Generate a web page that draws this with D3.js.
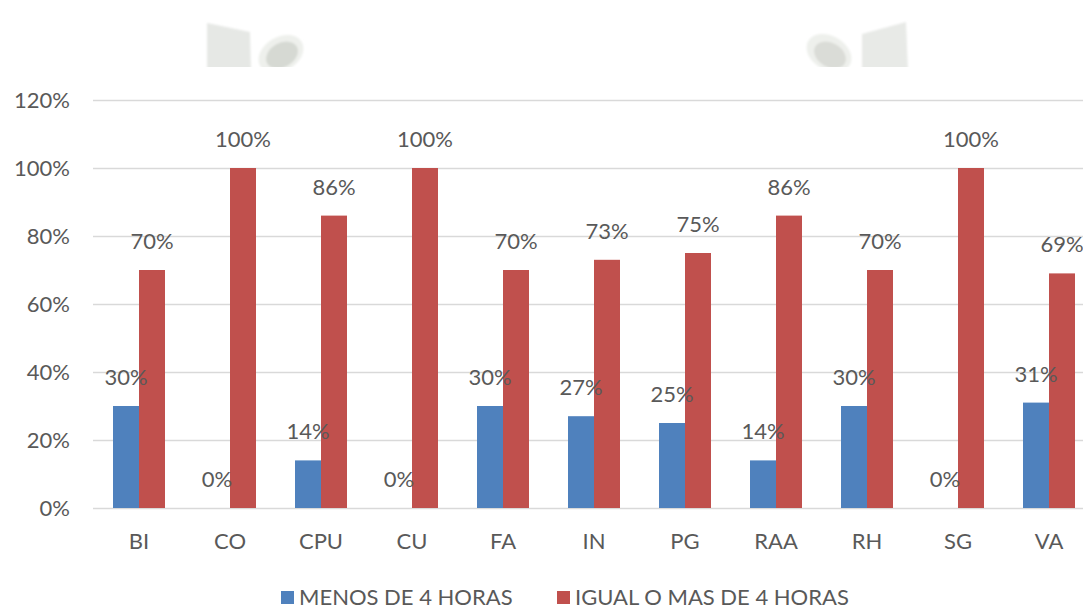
<!DOCTYPE html>
<html>
<head>
<meta charset="utf-8">
<script src="https://cdn.jsdelivr.net/npm/d3@7"></script>
<style>
  html, body { margin: 0; padding: 0; background: #ffffff; }
  svg { display: block; }
  text { font-family: Lato, "Open Sans", sans-serif; fill: #595959; }
</style>
</head>
<body>
<svg id="chart" width="1083" height="605"></svg>
<script>
// Categories (areas) along the x axis
const categories = ["BI", "CO", "CPU", "CU", "FA", "IN", "PG", "RAA", "RH", "SG", "VA"];
// Share of respondents, in percent
const menosDe4Horas = [30, 0, 14, 0, 30, 27, 25, 14, 30, 0, 31];
const igualOMasDe4Horas = [70, 100, 86, 100, 70, 73, 75, 86, 70, 100, 69];
const seriesNames = ["MENOS DE 4 HORAS", "IGUAL O MAS DE 4 HORAS"];
const seriesColors = ["#4f81bd", "#c0504d"];
const yTicks = [0, 20, 40, 60, 80, 100, 120];

const svg = d3.select("#chart");
const W = 1083, H = 605;
const plot = { left: 93.5, right: 1094.5, top: 100, bottom: 508 };

// Faint logo fragments at the top of the page
const defs = svg.append("defs");
defs.append("clipPath").attr("id", "decoClip")
  .append("rect").attr("x", 0).attr("y", 0).attr("width", W).attr("height", 67);
defs.append("filter").attr("id", "soft")
  .append("feGaussianBlur").attr("stdDeviation", 1);
const dg = svg.append("g").attr("clip-path", "url(#decoClip)")
  .append("g").attr("filter", "url(#soft)");
dg.append("path").attr("d", "M207,23 L250,32 L251,72 L207,72 Z").attr("fill", "#e6e8e5");
dg.append("ellipse").attr("cx", 281).attr("cy", 54).attr("rx", 24).attr("ry", 17)
  .attr("transform", "rotate(-30,281,54)").attr("fill", "#eef0ec");
dg.append("ellipse").attr("cx", 282).attr("cy", 55).attr("rx", 17).attr("ry", 12)
  .attr("transform", "rotate(-30,282,55)").attr("fill", "#d6d9d3");
dg.append("ellipse").attr("cx", 829).attr("cy", 53).attr("rx", 24).attr("ry", 17)
  .attr("transform", "rotate(30,829,53)").attr("fill", "#eef0ec");
dg.append("ellipse").attr("cx", 830).attr("cy", 55).attr("rx", 17).attr("ry", 12)
  .attr("transform", "rotate(30,830,55)").attr("fill", "#dadcd7");
dg.append("path").attr("d", "M862,34 L906,22 L908,72 L862,72 Z").attr("fill", "#e8eae7");

// Scales
const y = d3.scaleLinear().domain([0, 120]).range([plot.bottom, plot.top]);
const x0 = d3.scaleBand().domain(categories).range([plot.left, plot.right])
  .paddingInner(39 / 91).paddingOuter(39 / 182);
const x1 = d3.scaleBand().domain(seriesNames).range([0, x0.bandwidth()]);
const color = d3.scaleOrdinal().domain(seriesNames).range(seriesColors);

// Horizontal gridlines and y tick labels
const yAxis = d3.axisLeft(y).tickValues(yTicks).tickFormat(d => d + "%")
  .tickSize(-(W - 93)).tickPadding(23);
const yg = svg.append("g").attr("transform", "translate(93,0)").call(yAxis);
yg.select(".domain").remove();
yg.selectAll(".tick line").attr("stroke", "#d9d9d9").attr("stroke-width", 1.5);
yg.selectAll(".tick text").attr("font-size", 22).attr("fill", "#595959")
  .style("font-family", "Lato, sans-serif");

// Category labels
const xAxis = d3.axisBottom(x0).tickSize(0).tickPadding(25);
const xg = svg.append("g").attr("transform", `translate(0,${plot.bottom})`).call(xAxis);
xg.select(".domain").remove();
xg.selectAll(".tick text").attr("font-size", 22).attr("fill", "#595959")
  .style("font-family", "Lato, sans-serif");

// Bars
const rows = categories.map((c, i) => ({
  cat: c,
  vals: [
    { name: seriesNames[0], v: menosDe4Horas[i] },
    { name: seriesNames[1], v: igualOMasDe4Horas[i] }
  ]
}));

const groups = svg.append("g").selectAll("g").data(rows).join("g")
  .attr("transform", d => `translate(${x0(d.cat)},0)`);

groups.selectAll("rect").data(d => d.vals).join("rect")
  .attr("x", d => x1(d.name))
  .attr("y", d => y(d.v))
  .attr("width", x1.bandwidth())
  .attr("height", d => y(0) - y(d.v))
  .attr("fill", d => color(d.name));

// Value labels above each bar (drawn after all bars so they sit on top)
const labels = svg.append("g").selectAll("g").data(rows).join("g")
  .attr("transform", d => `translate(${x0(d.cat)},0)`);
labels.selectAll("text").data(d => d.vals).join("text")
  .attr("x", d => x1(d.name) + x1.bandwidth() / 2)
  .attr("y", d => y(d.v) - 21)
  .attr("text-anchor", "middle")
  .attr("font-size", 22)
  .text(d => d.v + "%");

// Legend along the bottom edge
const legendX = [281, 557];
const legend = svg.append("g").selectAll("g").data(seriesNames).join("g")
  .attr("transform", (d, i) => `translate(${legendX[i]},0)`);
legend.append("rect").attr("x", 0).attr("y", 591).attr("width", 13).attr("height", 13)
  .attr("fill", d => color(d));
legend.append("text").attr("x", 18).attr("y", 605).attr("font-size", 22).text(d => d);
</script>
</body>
</html>
